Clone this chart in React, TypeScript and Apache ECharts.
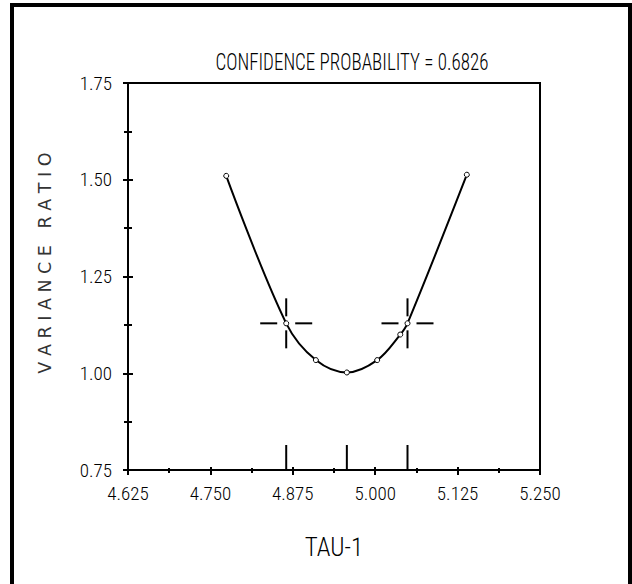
import React, { useEffect, useRef } from "react";
import * as echarts from "echarts";

// Curve points (TAU-1 vs variance ratio)
const tauValues = [4.774, 4.865, 4.910, 4.957, 5.003, 5.038, 5.049, 5.139];
const ratioValues = [1.510, 1.129, 1.034, 1.002, 1.034, 1.100, 1.129, 1.513];
// Confidence limits (crosses)
const crossTau = [4.865, 5.049];
const crossRatio = [1.129, 1.129];
// Tall marks on the x axis (limits and minimum)
const markerTau = [4.865, 4.957, 5.049];

const xMin = 4.625;
const xMax = 5.25;
const xStep = 0.125;
const yMin = 0.75;
const yMax = 1.75;
const yStep = 0.25;

const titleText = "CONFIDENCE PROBABILITY = 0.6826";
const xName = "TAU-1";
const yName = "VARIANCE RATIO";

const NARROW = "'Roboto Condensed', 'Liberation Sans Narrow', Roboto, sans-serif";

export default function App() {
  const ref = useRef<HTMLDivElement>(null);
  useEffect(() => {
    if (!ref.current) return;
    const chart = echarts.init(ref.current, undefined, { renderer: "svg" });
    const curve = tauValues.map((t, i) => [t, ratioValues[i]]);
    const crosses = crossTau.map((t, i) => [t, crossRatio[i]]);
    const marks = markerTau.map((t) => [t, yMin]);

    const axisCommon = {
      type: "value" as const,
      splitLine: { show: false },
    };

    chart.setOption({
      animation: false,
      backgroundColor: "#fff",
      grid: {
        left: 128,
        top: 83,
        right: 92,
        bottom: 114,
        show: true,
        borderColor: "#000",
        borderWidth: 2,
        backgroundColor: "transparent",
      },
      graphic: [
        { type: "rect", shape: { x: 10, y: 3, width: 4, height: 581 }, style: { fill: "#000" } },
        { type: "rect", shape: { x: 10, y: 3, width: 622, height: 4 }, style: { fill: "#000" } },
        { type: "rect", shape: { x: 628, y: 3, width: 4, height: 581 }, style: { fill: "#000" } },
        {
          type: "text",
          x: 352,
          y: 62,
          scaleY: 1.25,
          style: {
            text: titleText,
            align: "center",
            verticalAlign: "middle",
            fontFamily: NARROW,
            fontWeight: 300,
            fontSize: 19,
            fill: "#000",
          },
        },
        {
          type: "text",
          x: 45,
          y: 263,
          rotation: Math.PI / 2,
          style: {
            text: yName.split("").join(" "),
            align: "center",
            verticalAlign: "middle",
            fontFamily: "'DejaVu Sans', sans-serif",
            fontSize: 17.5,
            fill: "#333",
          },
        },
      ],
      xAxis: [
        {
          ...axisCommon,
          min: xMin,
          max: xMax,
          interval: xStep,
          position: "bottom",
          name: xName,
          nameLocation: "middle",
          nameGap: 65,
          nameTextStyle: { fontFamily: NARROW, fontWeight: 300, fontSize: 25, color: "#000" },
          axisLine: { show: true, onZero: false, lineStyle: { color: "#000", width: 2 } },
          axisTick: { show: true, inside: false, length: 5, lineStyle: { color: "#000", width: 2 } },
          minorTick: { show: true, splitNumber: 2, length: 3, lineStyle: { color: "#000", width: 2 } },
          axisLabel: {
            margin: 14,
            fontFamily: NARROW,
            fontWeight: 300,
            fontSize: 19,
            color: "#000",
            formatter: (v: number) => v.toFixed(3),
          },
        },
        {
          ...axisCommon,
          min: xMin,
          max: xMax,
          interval: xStep,
          position: "bottom",
          axisLine: { show: false },
          axisLabel: { show: false },
          axisTick: { show: true, inside: true, length: 3, lineStyle: { color: "#000", width: 2 } },
          minorTick: { show: true, splitNumber: 2, length: 2, lineStyle: { color: "#000", width: 2 } },
        },
      ],
      yAxis: [
        {
          ...axisCommon,
          min: yMin,
          max: yMax,
          interval: yStep,
          position: "left",
          axisLine: { show: true, onZero: false, lineStyle: { color: "#000", width: 2 } },
          axisTick: { show: true, inside: false, length: 5, lineStyle: { color: "#000", width: 2 } },
          minorTick: { show: true, splitNumber: 2, length: 4, lineStyle: { color: "#000", width: 2 } },
          axisLabel: {
            margin: 16,
            fontFamily: NARROW,
            fontWeight: 300,
            fontSize: 19,
            color: "#000",
            formatter: (v: number) => v.toFixed(2),
          },
        },
        {
          ...axisCommon,
          min: yMin,
          max: yMax,
          interval: yStep,
          position: "left",
          axisLine: { show: false },
          axisLabel: { show: false },
          axisTick: { show: true, inside: true, length: 5, lineStyle: { color: "#000", width: 2 } },
          minorTick: { show: true, splitNumber: 2, length: 4, lineStyle: { color: "#000", width: 2 } },
        },
      ],
      series: [
        {
          type: "line",
          xAxisIndex: 0,
          yAxisIndex: 0,
          data: curve,
          smooth: 0.35,
          showSymbol: true,
          symbol: "circle",
          symbolSize: 5,
          lineStyle: { color: "#000", width: 2 },
          itemStyle: { color: "#fff", borderColor: "#000", borderWidth: 1 },
          z: 3,
        },
        {
          type: "custom",
          xAxisIndex: 0,
          yAxisIndex: 0,
          data: crosses,
          renderItem: (params: any, api: any) => {
            const p = api.coord([api.value(0), api.value(1)]);
            const st = { stroke: "#000", lineWidth: 2 };
            return {
              type: "group",
              children: [
                { type: "line", shape: { x1: p[0] - 26, y1: p[1], x2: p[0] - 9, y2: p[1] }, style: st },
                { type: "line", shape: { x1: p[0] + 9, y1: p[1], x2: p[0] + 26, y2: p[1] }, style: st },
                { type: "line", shape: { x1: p[0], y1: p[1] - 25, x2: p[0], y2: p[1] - 7 }, style: st },
                { type: "line", shape: { x1: p[0], y1: p[1] + 7, x2: p[0], y2: p[1] + 25 }, style: st },
              ],
            };
          },
          z: 4,
        },
        {
          type: "custom",
          xAxisIndex: 0,
          yAxisIndex: 0,
          data: marks,
          renderItem: (params: any, api: any) => {
            const p = api.coord([api.value(0), api.value(1)]);
            return {
              type: "line",
              shape: { x1: p[0], y1: p[1], x2: p[0], y2: p[1] - 25 },
              style: { stroke: "#000", lineWidth: 2 },
            };
          },
          z: 4,
        },
      ],
    });
    return () => chart.dispose();
  }, []);
  return (
    <div
      ref={ref}
      style={{ position: "absolute", left: 0, top: 0, width: 632, height: 584 }}
    />
  );
}
